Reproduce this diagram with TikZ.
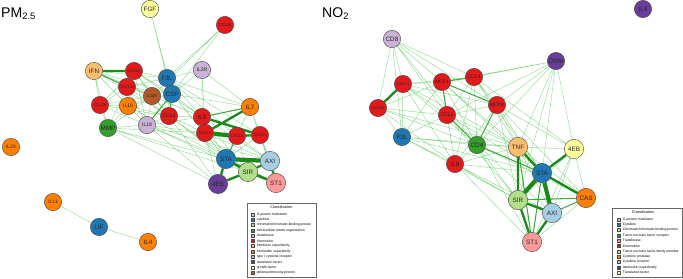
\documentclass[tikz,border=0pt]{standalone}
\usepackage{fontspec}
\setmainfont{Liberation Sans}
\usetikzlibrary{positioning}

\definecolor{cLtBlue}{HTML}{A6CEE3}
\definecolor{cBlue}{HTML}{1F78B4}
\definecolor{cLtGreen}{HTML}{B2DF8A}
\definecolor{cGreen}{HTML}{33A02C}
\definecolor{cPink}{HTML}{FB9A99}
\definecolor{cRed}{HTML}{E31A1C}
\definecolor{cLtOrange}{HTML}{FDBF6F}
\definecolor{cOrange}{HTML}{FF7F00}
\definecolor{cLtPurple}{HTML}{CAB2D6}
\definecolor{cPurple}{HTML}{6A3D9A}
\definecolor{cYellow}{HTML}{FFFF99}
\definecolor{cBrown}{HTML}{B15928}
\definecolor{edgeLight}{HTML}{8ED88E}
\definecolor{edgeMid}{HTML}{3FAA3F}
\definecolor{edgeDark}{HTML}{1A8A1A}

\pgfdeclarelayer{edges}
\pgfsetlayers{edges,main}

\begin{document}
\begin{tikzpicture}[
  x=0.03cm, y=-0.03cm,
  gene/.style={
    circle,
    draw=black!75,
    line width=0.35pt,
    minimum size=5.2mm,
    inner sep=0pt,
    text=black!85,
    font=\fontsize{4.3}{4.3}\selectfont
  },
  big/.style={gene, minimum size=5.8mm},
  txtS/.style={font=\fontsize{5.4}{5.4}\selectfont},
  txtL/.style={font=\fontsize{3.4}{3.4}\selectfont},
  weak/.style={draw=edgeLight, line width=0.35pt},
  medium/.style={draw=edgeMid, line width=0.9pt},
  strong/.style={draw=edgeDark, line width=2pt},
  heavy/.style={draw=edgeDark, line width=3.6pt},
  title/.style={anchor=base west, inner sep=0pt, font=\fontsize{12}{12}\selectfont},
  keybox/.style={draw=black!60, line width=0.5pt, fill=white, inner sep=0pt},
  keyhead/.style={inner sep=0pt, font=\fontsize{3.2}{3.2}\selectfont},
  swatch/.style={draw=black!70, line width=0.2pt, minimum size=0.9mm, inner sep=0pt},
  entry/.style={font=\fontsize{2.9}{3}\selectfont, inner sep=0pt, label distance=0.6mm}
]
\useasboundingbox (0,0) rectangle (683,278);

% titles
\node[title] (tpm) at (1,17) {PM\textsubscript{2.5}};
\node[title] (tno) at (322,17) {NO\textsubscript{2}};

% PM2.5 network
\node[gene, fill=cYellow, txtS] (pFGF) at (150,9) {FGF};
\node[gene, fill=cRed, txtL] (pCCL20) at (225,25) {CCL20};
\node[gene, fill=cLtOrange, txtS] (pIFN) at (94,71) {IFN};
\node[gene, fill=cRed, txtL] (pCXCL8) at (134,71) {CXCL8};
\node[gene, fill=cBlue, txtS] (pF3L) at (167,78) {F3L};
\node[gene, fill=cLtPurple] (pIL2R) at (202,70) {IL2R};
\node[gene, fill=cRed, txtL] (pCXCL10) at (127,87) {CXCL10};
\node[gene, fill=cBrown, txtL] (pIL10R) at (152,96) {IL10R};
\node[gene, fill=cBlue, txtS] (pCSF) at (172,94) {CSF};
\node[gene, fill=cRed, txtL] (pCCL25) at (100,105) {CCL25};
\node[gene, fill=cOrange] (pIL10) at (128,106) {IL10};
\node[gene, fill=cRed] (pCCL4) at (169,116) {CCL4};
\node[gene, fill=cGreen, txtS] (pMMP) at (108,128) {MMP};
\node[gene, fill=cLtPurple] (pIL18) at (147,125) {IL18};
\node[gene, fill=cRed, txtS] (pIL8) at (202,117) {IL8};
\node[gene, fill=cOrange, txtS] (pIL7) at (250,107) {IL7};
\node[gene, fill=cRed, txtL] (pCXCL6) at (205,133) {CXCL6};
\node[gene, fill=cRed, txtL] (pCXCL5) at (237,136) {CXCL5};
\node[gene, fill=cRed, txtL] (pCXCL1) at (260,135) {CXCL1};
\node[big, fill=cBlue, txtS] (pSTA) at (226,159) {STA};
\node[big, fill=cLtBlue, txtS] (pAXI) at (270,161) {AXI};
\node[big, fill=cLtGreen, txtS] (pSIR) at (248,172) {SIR};
\node[big, fill=cPurple, txtS] (p4EB) at (218,184) {4EB};
\node[big, fill=cPink, txtS] (pST1) at (276,183) {ST1};
\node[gene, fill=cOrange] (pIL24) at (11,147) {IL24};
\node[gene, fill=cOrange] (pIL11) at (53,202) {IL11};
\node[gene, fill=cBlue, txtS] (pLIF) at (99,227) {LIF};
\node[gene, fill=cOrange, txtS] (pIL4) at (148,242) {IL4};

% NO2 network
\node[gene, fill=cPurple, txtS] (nIL4) at (643,9) {IL4};
\node[gene, fill=cLtPurple, txtS] (nCD8) at (392,39) {CD8};
\node[gene, fill=cPurple, txtS] (nOSM) at (556,61) {OSM};
\node[gene, fill=cRed, txtL] (nCXCL1) at (403,84) {CXCL1};
\node[gene, fill=cRed] (nMCP1) at (442,82) {MCP1};
\node[gene, fill=cRed] (nCCL4) at (474,77) {CCL4};
\node[gene, fill=cRed, txtL] (nCXCL6) at (378,108) {CXCL6};
\node[gene, fill=cRed] (nMCP4) at (497,105) {MCP4};
\node[gene, fill=cRed] (nCCL1) at (447,115) {CCL1};
\node[gene, fill=cBlue, txtS] (nF3L) at (402,137) {F3L};
\node[gene, fill=cGreen, txtS] (nCD4) at (477,145) {CD4};
\node[gene, fill=cRed, txtS] (nIL8) at (455,164) {IL8};
\node[big, fill=cLtOrange, txtS] (nTNF) at (518,147) {TNF};
\node[big, fill=cYellow, txtS] (n4EB) at (574,149) {4EB};
\node[big, fill=cBlue, txtS] (nSTA) at (542,173) {STA};
\node[big, fill=cOrange, txtS] (nCAS) at (586,198) {CAS};
\node[big, fill=cLtGreen, txtS] (nSIR) at (518,200) {SIR};
\node[big, fill=cLtBlue, txtS] (nAXI) at (552,213) {AXI};
\node[big, fill=cPink, txtS] (nST1) at (532,242) {ST1};

\begin{pgfonlayer}{edges}
% PM2.5 links
\draw[weak] (pFGF) -- (pF3L) (pFGF) -- (pCSF)
  (pCCL20) -- (pF3L) (pCCL20) -- (pCSF) (pCCL20) -- (pIL10R)
  (pIFN) -- (pCCL25) (pIFN) -- (pIL10) (pIFN) -- (pIL10R) (pIFN) -- (pCSF)
  (pIFN) -- (pF3L) (pIFN) -- (pCCL4) (pIFN) -- (pIL18) (pIFN) -- (pMMP) (pIFN) -- (pIL8)
  (pCXCL8) -- (pF3L) (pCXCL8) -- (pCSF) (pCXCL8) -- (pIL10R) (pCXCL8) -- (pIL10)
  (pCXCL8) -- (pCCL4) (pCXCL8) -- (pIL18) (pCXCL8) -- (pCCL25) (pCXCL8) -- (pIL8)
  (pCXCL10) -- (pCCL25) (pCXCL10) -- (pIL10) (pCXCL10) -- (pIL10R) (pCXCL10) -- (pCSF)
  (pCXCL10) -- (pF3L) (pCXCL10) -- (pCCL4) (pCXCL10) -- (pIL18) (pCXCL10) -- (pMMP)
  (pCCL25) -- (pIL10) (pCCL25) -- (pMMP) (pCCL25) -- (pIL18) (pCCL25) -- (pIL10R) (pCCL25) -- (pCCL4)
  (pIL10) -- (pIL10R) (pIL10) -- (pMMP) (pIL10) -- (pIL18) (pIL10) -- (pCCL4) (pIL10) -- (pCSF) (pIL10) -- (pSTA)
  (pIL10R) -- (pCCL4) (pIL10R) -- (pIL18) (pIL10R) -- (pMMP) (pIL10R) -- (pIL8)
  (pCSF) -- (pF3L) (pCSF) -- (pIL8) (pCSF) -- (pCXCL6) (pCSF) -- (pIL7) (pCSF) -- (pSTA) (pCSF) -- (pIL2R)
  (pF3L) -- (pIL2R) (pF3L) -- (pIL7) (pF3L) -- (pIL8) (pF3L) -- (pCCL4) (pF3L) -- (pCXCL1) (pF3L) -- (pCXCL5)
  (pIL2R) -- (pIL8) (pIL2R) -- (pIL7) (pIL2R) -- (pCXCL6)
  (pCCL4) -- (pIL18) (pCCL4) -- (pIL8) (pCCL4) -- (pCXCL6) (pCCL4) -- (pSTA) (pCCL4) -- (p4EB) (pCCL4) -- (pSIR)
  (pMMP) -- (pIL18) (pMMP) -- (pSTA) (pMMP) -- (pSIR) (pMMP) -- (p4EB) (pMMP) -- (pCXCL6)
  (pIL18) -- (pCXCL6) (pIL18) -- (pSTA) (pIL18) -- (p4EB) (pIL18) -- (pSIR) (pIL18) -- (pAXI) (pIL18) -- (pIL8)
  (pIL8) -- (pSTA) (pIL8) -- (pAXI) (pIL8) -- (pSIR)
  (pIL7) -- (pCXCL1) (pIL7) -- (pCXCL5) (pIL7) -- (pSTA) (pIL7) -- (pAXI) (pIL7) -- (pST1)
  (pCXCL6) -- (pSTA) (pCXCL6) -- (pSIR) (pCXCL6) -- (p4EB) (pCXCL6) -- (pAXI)
  (pCXCL5) -- (pAXI) (pCXCL5) -- (pSIR) (pCXCL1) -- (pAXI) (pCXCL1) -- (pSTA) (pCXCL1) -- (pST1)
  (pIL11) -- (pLIF) (pLIF) -- (pIL4);
\draw[medium] (pIFN) -- (pCXCL10) (pCSF) -- (pCCL4) (pCSF) -- (pIL18)
  (pIL7) -- (pIL8) (pIL8) -- (pCXCL6) (pCXCL5) -- (pSTA) (pSTA) -- (pST1);
\draw[strong] (pIFN) -- (pCXCL8) (pIL7) -- (pCXCL6) (pIL8) -- (pCXCL1) (pCXCL5) -- (pCXCL1)
  (pSTA) -- (pSIR) (pSIR) -- (pAXI) (pSTA) -- (p4EB) (p4EB) -- (pSIR)
  (pSIR) -- (pST1) (pAXI) -- (pST1);
\draw[heavy] (pCXCL6) -- (pCXCL5) (pSTA) -- (pAXI);

% NO2 links
\draw[weak] (nCD8) -- (nCXCL1) (nCD8) -- (nCXCL6) (nCD8) -- (nMCP1) (nCD8) -- (nCCL4)
  (nCD8) -- (nCCL1) (nCD8) -- (nMCP4) (nCD8) -- (nCD4) (nCD8) -- (nTNF) (nCD8) -- (nF3L)
  (nOSM) -- (nCCL4) (nOSM) -- (nMCP4) (nOSM) -- (nMCP1) (nOSM) -- (nTNF) (nOSM) -- (nCD4)
  (nOSM) -- (nSTA) (nOSM) -- (n4EB) (nOSM) -- (nSIR) (nOSM) -- (nCCL1)
  (nCXCL1) -- (nMCP1) (nCXCL1) -- (nCCL1) (nCXCL1) -- (nF3L) (nCXCL1) -- (nCD4)
  (nCXCL1) -- (nIL8) (nCXCL1) -- (nTNF) (nCXCL1) -- (nMCP4) (nCXCL1) -- (nCCL4)
  (nCXCL6) -- (nF3L) (nCXCL6) -- (nCCL1) (nCXCL6) -- (nIL8) (nCXCL6) -- (nMCP1)
  (nCXCL6) -- (nCD4) (nCXCL6) -- (nTNF)
  (nMCP1) -- (nIL8) (nMCP1) -- (nCD4) (nMCP1) -- (nTNF) (nMCP1) -- (nF3L) (nMCP1) -- (nSTA)
  (nCCL4) -- (nCCL1) (nCCL4) -- (nCD4) (nCCL4) -- (nTNF) (nCCL4) -- (nIL8) (nCCL4) -- (n4EB)
  (nCCL4) -- (nSTA) (nCCL4) -- (nMCP4)
  (nMCP4) -- (nCCL1) (nMCP4) -- (nTNF) (nMCP4) -- (n4EB) (nMCP4) -- (nSTA) (nMCP4) -- (nSIR)
  (nMCP4) -- (nIL8) (nMCP4) -- (nCAS)
  (nCCL1) -- (nF3L) (nCCL1) -- (nIL8) (nCCL1) -- (nTNF) (nCCL1) -- (nSTA) (nCCL1) -- (nSIR)
  (nF3L) -- (nCD4) (nF3L) -- (nIL8) (nF3L) -- (nTNF) (nF3L) -- (nSIR) (nF3L) -- (nSTA)
  (nCD4) -- (nIL8) (nCD4) -- (nTNF) (nCD4) -- (nSIR) (nCD4) -- (nAXI) (nCD4) -- (nCAS) (nCD4) -- (nST1)
  (nIL8) -- (nTNF) (nIL8) -- (nSIR) (nIL8) -- (nSTA) (nIL8) -- (nAXI) (nIL8) -- (nST1)
  (nTNF) -- (n4EB) (nTNF) -- (nAXI) (nTNF) -- (nCAS)
  (n4EB) -- (nSIR) (n4EB) -- (nAXI) (n4EB) -- (nCAS) (n4EB) -- (nST1)
  (nCAS) -- (nST1);
\draw[medium] (nMCP1) -- (nCCL4) (nMCP1) -- (nMCP4) (nMCP1) -- (nCCL1) (nCCL1) -- (nCD4)
  (nCD4) -- (nSTA) (nCD4) -- (nMCP4) (nSIR) -- (nCAS) (nAXI) -- (nCAS)
  (nSTA) -- (nST1) (nTNF) -- (nST1);
\draw[strong] (nCXCL1) -- (nCXCL6) (nTNF) -- (nSTA) (nTNF) -- (nSIR) (nSTA) -- (n4EB)
  (nSTA) -- (nCAS) (nSIR) -- (nAXI) (nSIR) -- (nST1) (nAXI) -- (nST1);
\draw[heavy] (nSTA) -- (nSIR) (nSTA) -- (nAXI);
\end{pgfonlayer}

% PM2.5 key
\node[keybox, minimum width=2.07cm, minimum height=2.21cm] (pkey) at (281.5,240) {};
\node[keyhead] (pkeyhead) at (281.5,207.5) {Classification};
\node[swatch, fill=cLtBlue, label={[entry]right:G-protein modulator}] (pk1) at (253,214.3) {};
\node[swatch, fill=cBlue, label={[entry]right:cytokine}] (pk2) at (253,219.6) {};
\node[swatch, fill=cLtGreen, label={[entry]right:chromatin/chromatin-binding protein}] (pk3) at (253,224.9) {};
\node[swatch, fill=cGreen, label={[entry]right:extracellular matrix organization}] (pk4) at (253,230.2) {};
\node[swatch, fill=cPink, label={[entry]right:transferase}] (pk5) at (253,235.5) {};
\node[swatch, fill=cRed, label={[entry]right:chemokine}] (pk6) at (253,240.8) {};
\node[swatch, fill=cLtOrange, label={[entry]right:interferon superfamily}] (pk7) at (253,246.1) {};
\node[swatch, fill=cOrange, label={[entry]right:interleukin superfamily}] (pk8) at (253,251.4) {};
\node[swatch, fill=cLtPurple, label={[entry]right:type I cytokine receptor}] (pk9) at (253,256.7) {};
\node[swatch, fill=cPurple, label={[entry]right:translation factor}] (pk10) at (253,262.0) {};
\node[swatch, fill=cYellow, label={[entry]right:growth factor}] (pk11) at (253,267.3) {};
\node[swatch, fill=cBrown, label={[entry]right:defense/immunity protein}] (pk12) at (253,272.6) {};

% NO2 key
\node[keybox, minimum width=2.09cm, minimum height=2.06cm] (nkey) at (647.5,242.5) {};
\node[keyhead] (nkeyhead) at (643,212.5) {Classification};
\node[swatch, fill=cLtBlue, label={[entry]right:G-protein modulator}] (nk1) at (619,219.3) {};
\node[swatch, fill=cBlue, label={[entry]right:Cytokine}] (nk2) at (619,224.6) {};
\node[swatch, fill=cLtGreen, label={[entry]right:Chromatin/chromatin-binding protein}] (nk3) at (619,230.0) {};
\node[swatch, fill=cGreen, label={[entry]right:Tumor necrosis factor receptor}] (nk4) at (619,235.3) {};
\node[swatch, fill=cPink, label={[entry]right:Transferase}] (nk5) at (619,240.7) {};
\node[swatch, fill=cRed, label={[entry]right:Chemokine}] (nk6) at (619,246.0) {};
\node[swatch, fill=cLtOrange, label={[entry]right:Tumor necrosis factor family member}] (nk7) at (619,251.3) {};
\node[swatch, fill=cOrange, label={[entry]right:Cysteine protease}] (nk8) at (619,256.7) {};
\node[swatch, fill=cLtPurple, label={[entry]right:Cytokine receptor}] (nk9) at (619,262.0) {};
\node[swatch, fill=cPurple, label={[entry]right:Interleukin superfamily}] (nk10) at (619,267.4) {};
\node[swatch, fill=cYellow, label={[entry]right:Translation factor}] (nk11) at (619,272.7) {};

\end{tikzpicture}
\end{document}
